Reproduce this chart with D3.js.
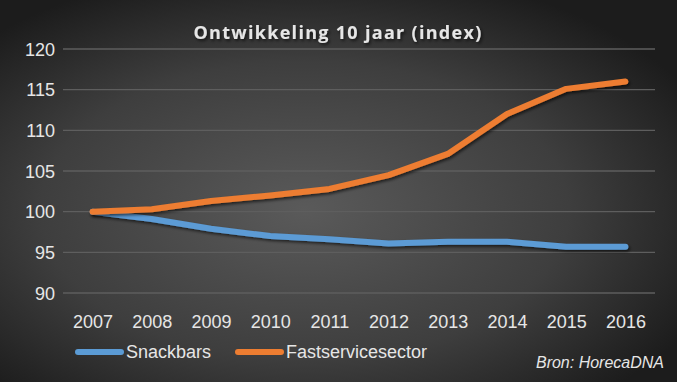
<!DOCTYPE html>
<html>
<head>
<meta charset="utf-8">
<title></title>
<script src="https://d3js.org/d3.v7.min.js"></script>
<style>
body { margin: 0; background: #2a2a2a; }
text { font-family: "Liberation Sans Narrow", "Liberation Sans", sans-serif; fill: #e6e6e6; }
</style>
</head>
<body>
<div id="my_dataviz"></div>
<script type="text/javascript">
var years = ['2007','2008','2009','2010','2011','2012','2013','2014','2015','2016'];
var snackbars = [100, 99.1, 97.9, 97.0, 96.6, 96.1, 96.3, 96.3, 95.7, 95.7];
var fastservice = [100, 100.3, 101.3, 102.0, 102.8, 104.5, 107.1, 112.0, 115.1, 116.0];
var yTicks = [90, 95, 100, 105, 110, 115, 120];
var seriesNames = ['Snackbars', 'Fastservicesector'];
var colors = ['#5b9bd5', '#ed7d31'];

var W = 677, H = 382;
var margin = {top: 49, right: 22, bottom: 89, left: 63},
    width = W - margin.left - margin.right,
    height = H - margin.top - margin.bottom;

var root = d3.select("#my_dataviz")
  .append("svg")
    .attr("width", W)
    .attr("height", H);

var defs = root.append("defs");
var grad = defs.append("radialGradient")
    .attr("id", "bg")
    .attr("cx", "45%").attr("cy", "55%").attr("r", "65%");
grad.append("stop").attr("offset", "0%").attr("stop-color", "#5a5a5a");
grad.append("stop").attr("offset", "60%").attr("stop-color", "#3e3e3e");
grad.append("stop").attr("offset", "100%").attr("stop-color", "#1c1c1c");

var shadow = defs.append("filter").attr("id", "shadow")
    .attr("x", "-10%").attr("y", "-10%").attr("width", "120%").attr("height", "130%");
shadow.append("feDropShadow")
    .attr("dx", 1.5).attr("dy", 2).attr("stdDeviation", 1.5)
    .attr("flood-color", "#000").attr("flood-opacity", 0.6);

root.append("rect").attr("width", W).attr("height", H).attr("fill", "url(#bg)");

// title
root.append("text")
    .attr("x", 338).attr("y", 39)
    .attr("text-anchor", "middle")
    .style("font-family", "'Open Sans', sans-serif")
    .style("font-weight", "bold")
    .style("font-size", "18px")
    .style("letter-spacing", "1.3px")
    .attr("filter", "url(#shadow)")
    .text("Ontwikkeling 10 jaar (index)");

var svg = root.append("g")
    .attr("transform", "translate(" + margin.left + "," + margin.top + ")");

var x = d3.scalePoint()
    .domain(years)
    .range([0, width])
    .padding(0.5);

var y = d3.scaleLinear()
    .domain([90, 120])
    .range([height, 0]);

// gridlines
svg.append("g")
    .selectAll("line")
    .data(yTicks)
    .enter().append("line")
      .attr("x1", 0).attr("x2", width)
      .attr("y1", function(d) { return y(d); })
      .attr("y2", function(d) { return y(d); })
      .attr("stroke", "#5e5e5e")
      .attr("stroke-width", 1.3);

// y axis
var yAxis = svg.append("g")
    .call(d3.axisLeft(y).tickValues(yTicks).tickSize(0).tickPadding(8));
yAxis.select(".domain").remove();
yAxis.selectAll("text").style("font-size", "18px").attr("dy", "0.35em");

// x axis
var xAxis = svg.append("g")
    .attr("transform", "translate(0," + height + ")")
    .call(d3.axisBottom(x).tickSize(0).tickPadding(22));
xAxis.select(".domain").remove();
xAxis.selectAll("text").style("font-size", "18px");

var line = d3.line()
    .x(function(d, i) { return x(years[i]); })
    .y(function(d) { return y(d); });

[snackbars, fastservice].forEach(function(s, i) {
  svg.append("path")
    .datum(s)
    .attr("fill", "none")
    .attr("stroke", colors[i])
    .attr("stroke-width", 6)
    .attr("stroke-linecap", "round")
    .attr("stroke-linejoin", "round")
    .attr("filter", "url(#shadow)")
    .attr("d", line);
});

// legend
var legendX = [78, 238];
var leg = root.append("g").selectAll("g")
    .data(seriesNames)
    .enter().append("g")
      .attr("transform", function(d, i) { return "translate(" + legendX[i] + ",352)"; });
leg.append("line")
    .attr("x1", 0).attr("x2", 43)
    .attr("stroke", function(d, i) { return colors[i]; })
    .attr("stroke-width", 6)
    .attr("stroke-linecap", "round");
leg.append("text")
    .attr("x", 48).attr("dy", "0.35em")
    .style("font-size", "18px")
    .text(function(d) { return d; });

root.append("text")
    .attr("x", 664).attr("y", 368)
    .attr("text-anchor", "end")
    .style("font-style", "italic")
    .style("font-size", "16px")
    .text("Bron: HorecaDNA");
</script>
</body>
</html>
